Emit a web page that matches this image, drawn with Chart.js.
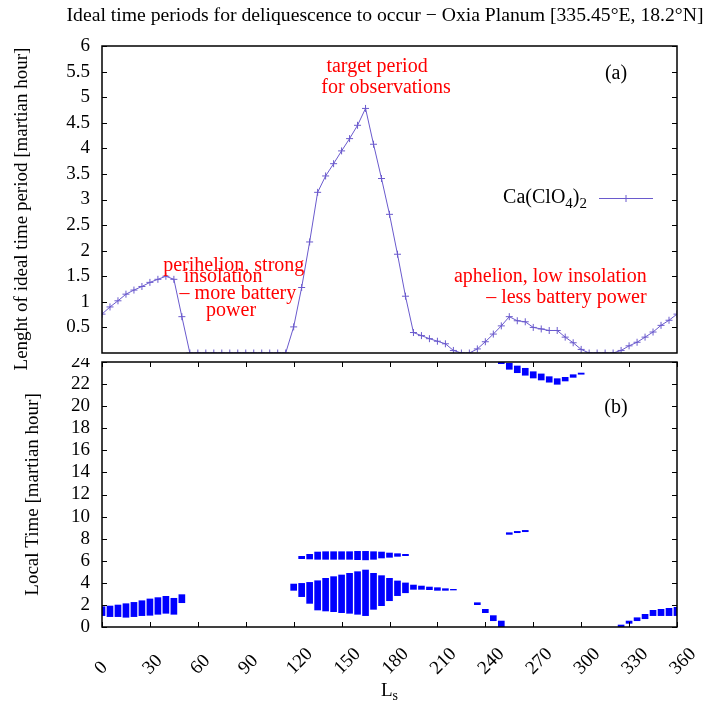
<!DOCTYPE html>
<html>
<head>
<meta charset="utf-8">
<script src="https://cdn.jsdelivr.net/npm/chart.js@4/dist/chart.umd.min.js"></script>
<style>
  html, body { margin: 0; padding: 0; background: #fff; }
  #top { position: absolute; left: 0; top: 0; width: 717px; height: 375px; }
  #bot { position: absolute; left: 0; top: 358px; width: 717px; height: 349px; }
</style>
</head>
<body>
<div id="top"><canvas id="c1"></canvas></div>
<div id="bot"><canvas id="c2"></canvas></div>
<script>
// Ls grid (every 5 degrees) and the length of the ideal period, panel (a)
const ls = [0,5,10,15,20,25,30,35,40,45,50,55,60,65,70,75,80,85,90,95,100,105,110,115,
  120,125,130,135,140,145,150,155,160,165,170,175,180,185,190,195,200,205,210,215,220,
  225,230,235,240,245,250,255,260,265,270,275,280,285,290,295,300,305,310,315,320,
  325,330,335,340,345,350,355,360];
const lengthHours = [0.76,0.90,1.02,1.15,1.23,1.30,1.38,1.44,1.50,1.44,0.71,
  0,0,0,0,0,0,0,0,0,0,0,0,0,
  0.51,1.28,2.17,3.14,3.46,3.70,3.95,4.19,4.45,4.78,4.08,3.41,2.71,1.93,1.11,0.40,0.34,0.28,0.23,0.18,0.05,
  0,0,0.08,0.22,0.37,0.53,0.71,0.63,0.61,0.50,0.47,0.44,0.44,0.31,0.20,0.07,
  0,0,0,0,0.05,0.14,0.21,0.31,0.41,0.54,0.64,0.76];

// panel (b): local time windows [from, to] per Ls
const mainLs   = [0,5,10,15,20,25,30,35,40,45,50,
  120,125,130,135,140,145,150,155,160,165,170,175,180,185,190,195,200,205,210,215,220,
  235,240,245,250, 325,330,335,340,345,350,355,360];
const mainFrom = [1.03,0.94,0.94,0.88,0.94,1.03,1.06,1.15,1.24,1.15,2.20,
  3.32,2.75,2.14,1.54,1.45,1.39,1.30,1.24,1.15,1.03,1.60,1.93,2.38,2.84,3.10,3.41,3.41,3.38,3.32,3.32,3.35,
  2.02,1.30,0.57,0.00, 0.03,0.33,0.57,0.75,1.03,1.03,1.03,1.03];
const mainTo   = [1.84,1.90,1.99,2.11,2.23,2.38,2.54,2.66,2.78,2.60,2.93,
  3.89,3.95,4.04,4.19,4.41,4.56,4.71,4.86,5.01,5.16,4.86,4.65,4.41,4.17,3.99,3.80,3.71,3.62,3.56,3.47,3.41,
  2.20,1.60,1.03,0.54, 0.18,0.54,0.84,1.15,1.51,1.60,1.69,1.78];

const eveLs   = [125,130,135,140,145,150,155,160,165,170,175,180,185,190];
const eveFrom = [6.19,6.16,6.13,6.13,6.13,6.13,6.13,6.10,6.08,6.13,6.25,6.31,6.40,6.46];
const eveTo   = [6.40,6.58,6.79,6.82,6.82,6.82,6.82,6.85,6.85,6.82,6.79,6.70,6.64,6.58];

const midLs   = [255,260,265];
const midFrom = [8.39,8.54,8.63];
const midTo   = [8.54,8.66,8.75];

const lateLs   = [250,255,260,265,270,275,280,285,290,295,300];
const lateFrom = [23.85,23.34,23.03,22.80,22.55,22.37,22.17,21.98,22.28,22.61,22.89];
const lateTo   = [24.00,23.88,23.64,23.43,23.12,22.92,22.67,22.49,22.61,22.85,23.00];

const xTickLabels = ['0','30','60','90','120','150','180','210','240','270','300','330','360'];

const notesA = [
  { text: 'target period', x: 172.2, y: 5.50 },
  { text: 'for observations', x: 177.8, y: 5.09 },
  { text: 'perihelion, strong', x: 82.5, y: 1.61 },
  { text: 'insolation', x: 75.8, y: 1.38 },
  { text: '– more battery', x: 85.1, y: 1.05 },
  { text: 'power', x: 80.8, y: 0.72 },
  { text: 'aphelion, low insolation', x: 341.0, y: 1.39, align: 'right' },
  { text: '– less battery power', x: 341.0, y: 0.98, align: 'right' }
];

const TITLE = 'Ideal time periods for deliquescence to occur − Oxia Planum [335.45°E, 18.2°N]';
const FONT = '"Liberation Serif", "Times New Roman", serif';
const LINE_COLOR = '#6a5acd';
const BAR_COLOR = '#0000ff';

// gnuplot-ish frame: box plus inward ticks, and free text
const frame = {
  id: 'frame',
  afterDatasetsDraw(chart, args, opts) {
    const { ctx, chartArea: a, scales } = chart;
    ctx.save();
    ctx.strokeStyle = '#000';
    ctx.lineWidth = 1;
    ctx.beginPath();
    scales.y.ticks.forEach(tk => {
      const py = Math.round(scales.y.getPixelForValue(tk.value)) + 0.5;
      ctx.moveTo(a.left, py); ctx.lineTo(a.left + 5, py);
      ctx.moveTo(a.right, py); ctx.lineTo(a.right - 5, py);
    });
    if (opts.xTicks) {
      scales.x.ticks.forEach(tk => {
        const px = Math.round(scales.x.getPixelForValue(tk.value)) + 0.5;
        ctx.moveTo(px, a.bottom); ctx.lineTo(px, a.bottom - 5);
        ctx.moveTo(px, a.top); ctx.lineTo(px, a.top + 5);
      });
    }
    ctx.stroke();
    ctx.lineWidth = 1.5;
    ctx.strokeRect(a.left, a.top, a.right - a.left, a.bottom - a.top);

    ctx.textBaseline = 'alphabetic';
    if (opts.title) {
      // drawn by hand: the built-in title squeezes text to the chart-area width
      ctx.font = '19.7px ' + FONT;
      ctx.fillStyle = '#000';
      ctx.textAlign = 'center';
      ctx.fillText(opts.title, (a.left + a.right) / 2 - 4.5, a.top - 25);
    }

    ctx.font = '20px ' + FONT;
    (opts.notes || []).forEach(n => {
      ctx.fillStyle = n.color || '#ff0000';
      ctx.textAlign = n.align || 'center';
      ctx.fillText(n.text, scales.x.getPixelForValue(n.x), scales.y.getPixelForValue(n.y));
    });
    if (opts.tag) {
      ctx.fillStyle = '#000';
      ctx.textAlign = 'center';
      ctx.fillText(opts.tag.text, scales.x.getPixelForValue(opts.tag.x), scales.y.getPixelForValue(opts.tag.y));
    }

    if (opts.legend) {
      // Ca(ClO4)2 with subscripts, right aligned before the sample line
      const y = a.top + 157;
      const parts = [['Ca(ClO', 0], ['4', 1], [')', 0], ['2', 1]];
      const w = parts.map(([t, s]) => {
        ctx.font = (s ? '15px ' : '20px ') + FONT;
        return ctx.measureText(t).width;
      });
      let x = a.right - 90 - w.reduce((p, c) => p + c, 0);
      ctx.fillStyle = '#000';
      ctx.textAlign = 'left';
      parts.forEach(([t, s], i) => {
        ctx.font = (s ? '15px ' : '20px ') + FONT;
        ctx.fillText(t, x, y + (s ? 5 : 0));
        x += w[i];
      });
      ctx.strokeStyle = LINE_COLOR;
      ctx.lineWidth = 1;
      const ly = y - 4.5;
      ctx.beginPath();
      ctx.moveTo(a.right - 78, ly); ctx.lineTo(a.right - 24, ly);
      ctx.moveTo(a.right - 51 - 3.5, ly); ctx.lineTo(a.right - 51 + 3.5, ly);
      ctx.moveTo(a.right - 51, ly - 3.5); ctx.lineTo(a.right - 51, ly + 3.5);
      ctx.stroke();
    }

    if (opts.xLabels) {
      ctx.fillStyle = '#000';
      ctx.font = '19px ' + FONT;
      ctx.textAlign = 'left';
      scales.x.ticks.forEach((tk, i) => {
        const px = scales.x.getPixelForValue(tk.value);
        ctx.save();
        ctx.translate(px - 0.5, a.bottom + 48);
        ctx.rotate(-Math.PI / 4);
        ctx.fillText(xTickLabels[i], 0, 0);
        ctx.restore();
      });
      // L with subscript s
      ctx.font = '19px ' + FONT;
      const wl = ctx.measureText('L').width;
      ctx.font = '14px ' + FONT;
      const ws = ctx.measureText('s').width;
      const cx = (a.left + a.right) / 2 - (wl + ws) / 2;
      ctx.font = '19px ' + FONT;
      ctx.fillText('L', cx, a.bottom + 69);
      ctx.font = '14px ' + FONT;
      ctx.fillText('s', cx + wl, a.bottom + 73);
    }
    ctx.restore();
  }
};

const tickFont = { family: FONT, size: 19 };
const noPad = s => { s.paddingTop = 0; s.paddingBottom = 0; s.paddingLeft = 0; s.paddingRight = 0; };

new Chart(document.getElementById('c1'), {
  type: 'line',
  data: {
    datasets: [{
      label: 'Ca(ClO4)2',
      data: ls.map((x, i) => ({ x, y: lengthHours[i] })),
      borderColor: LINE_COLOR,
      borderWidth: 1,
      pointStyle: 'cross',
      pointRadius: 3.5,
      pointBorderColor: LINE_COLOR,
      pointBorderWidth: 1,
      tension: 0
    }]
  },
  options: {
    responsive: true, maintainAspectRatio: false, animation: false,
    layout: { padding: { left: 10.6, right: 40, top: 46, bottom: 22 } },
    scales: {
      x: { type: 'linear', min: 0, max: 360, display: false },
      y: {
        min: 0, max: 6,
        grid: { display: false, drawTicks: false },
        border: { display: false },
        ticks: { stepSize: 0.5, autoSkip: false, padding: 12, color: '#000', font: tickFont,
          callback: v => v === 0 ? null : String(v) },
        // trailing spaces nudge the rotated title down a little, as in the original
        title: { display: true, text: 'Lenght of ideal time period [martian hour]    ',
          color: '#000', font: tickFont, padding: 0 },
        afterFit(s) { s.width = 91.4; noPad(s); }
      }
    },
    plugins: {
      legend: { display: false },
      tooltip: { enabled: false },
      title: { display: false },
      frame: { title: TITLE, notes: notesA, tag: { text: '(a)', x: 321.8, y: 5.35 }, legend: true }
    }
  },
  plugins: [frame]
});

const bars = (xs, from, to) => xs.map((x, i) => ({ x, y: [from[i], to[i]] }));
const barSet = (xs, from, to) => ({
  data: bars(xs, from, to),
  backgroundColor: BAR_COLOR,
  barThickness: 6,
  grouped: false,
  clip: 0
});

new Chart(document.getElementById('c2'), {
  type: 'bar',
  data: {
    datasets: [
      barSet(mainLs, mainFrom, mainTo),
      barSet(eveLs, eveFrom, eveTo),
      barSet(midLs, midFrom, midTo),
      barSet(lateLs, lateFrom, lateTo)
    ]
  },
  options: {
    responsive: true, maintainAspectRatio: false, animation: false,
    layout: { padding: { left: 21.6, right: 40, top: 4, bottom: 0 } },
    scales: {
      x: {
        type: 'linear', min: 0, max: 360, offset: false,
        grid: { display: false, drawTicks: false, offset: false },
        border: { display: false },
        ticks: { stepSize: 30, autoSkip: false, display: false },
        afterFit(s) { s.height = 80; noPad(s); }
      },
      y: {
        min: 0, max: 24,
        grid: { display: false, drawTicks: false },
        border: { display: false },
        ticks: { stepSize: 2, autoSkip: false, padding: 12, color: '#000', font: tickFont },
        title: { display: true, text: 'Local Time [martian hour]',
          color: '#000', font: tickFont, padding: 0 },
        afterFit(s) { s.width = 80.4; noPad(s); }
      }
    },
    plugins: {
      legend: { display: false },
      tooltip: { enabled: false },
      frame: { xTicks: true, xLabels: true, notes: [], tag: { text: '(b)', x: 321.8, y: 19.4 } }
    }
  },
  plugins: [frame]
});
</script>
</body>
</html>
